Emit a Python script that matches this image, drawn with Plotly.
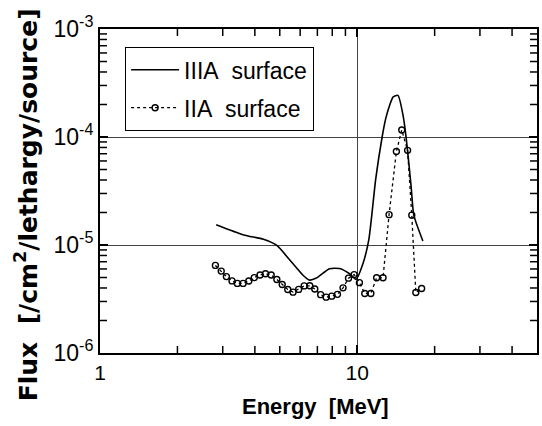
import plotly.graph_objects as go

# IIIA surface (solid line)
e_iiia = [2.83, 3.62, 4.32, 4.87, 5.46, 6.17, 6.53, 6.94, 7.80, 8.53, 9.31, 9.91,
          10.5, 11.1, 11.8, 12.5, 12.9, 13.3, 13.8, 14.4, 15.1, 15.5, 16.2, 16.6, 18.0]
f_iiia = [1.54e-5, 1.24e-5, 1.13e-5, 9.9e-6, 7.3e-6, 5.22e-6, 4.73e-6, 4.94e-6, 6.03e-6,
          6.05e-6, 5.45e-6, 4.82e-6, 6.59e-6, 1.13e-5, 4.08e-5, 1.0e-4, 1.47e-4, 1.9e-4,
          2.35e-4, 2.43e-4, 1.55e-4, 9.8e-5, 3.51e-5, 1.89e-5, 1.09e-5]

# IIA surface (dotted line with circles)
e_iia = [2.81, 2.96, 3.10, 3.26, 3.42, 3.60, 3.79, 3.98, 4.19, 4.40, 4.63, 4.87, 5.11,
         5.37, 5.63, 5.92, 6.22, 6.54, 6.84, 7.21, 7.57, 7.96, 8.38, 8.81, 9.25, 9.73,
         10.2, 10.7, 11.3, 11.9, 12.6, 13.3, 14.2, 14.9, 15.7, 16.3, 16.9, 17.8]
f_iia = [6.47e-6, 5.73e-6, 5.10e-6, 4.65e-6, 4.41e-6, 4.41e-6, 4.64e-6, 4.99e-6, 5.28e-6,
         5.41e-6, 5.27e-6, 4.80e-6, 4.31e-6, 3.87e-6, 3.66e-6, 3.88e-6, 4.18e-6, 4.19e-6,
         3.92e-6, 3.47e-6, 3.29e-6, 3.36e-6, 3.49e-6, 4.01e-6, 4.93e-6, 5.32e-6, 4.48e-6,
         3.56e-6, 3.56e-6, 4.97e-6, 4.97e-6, 1.91e-5, 7.33e-5, 1.16e-4, 7.52e-5, 1.89e-5,
         3.63e-6, 3.95e-6]

x_tickvals = [1, 10]
x_ticktext = ["1", "10"]
x_minor = [2, 3, 4, 5, 6, 7, 8, 9, 20, 30, 40]
y_tickvals = [1e-6, 1e-5, 1e-4, 1e-3]
y_ticktext = ["10<sup>-6</sup>", "10<sup>-5</sup>", "10<sup>-4</sup>", "10<sup>-3</sup>"]
y_minor = [m * 10.0 ** p for p in (-6, -5, -4) for m in range(2, 10)]
x_lim = [1, 50]
y_lim = [1e-6, 1e-3]

FONT = "Liberation Sans"
BOLDFONT = "DejaVu Sans"
XR = [0, 1.699]
YR = [-6, -3]

fig = go.Figure()
fig.add_trace(go.Scatter(
    x=e_iiia, y=f_iiia, mode="lines", name="IIIA\u00a0\u00a0surface",
    legendgroup="a",
    line=dict(color="black", width=1.6, shape="spline", smoothing=0.6),
))
fig.add_trace(go.Scatter(
    x=e_iia, y=f_iia, mode="lines+markers", name="IIA\u00a0\u00a0surface",
    legendgroup="b",
    line=dict(color="black", width=1.3, dash="dot"),
    marker=dict(symbol="circle-open", size=6, color="black", line=dict(width=1.4)),
))

# minor tick marks on all four frame edges (half of each marker is clipped away)
tick_marker = dict(color="black", size=10, line=dict(color="black", width=1.5))
for yv in y_lim:
    fig.add_trace(go.Scatter(x=x_minor, y=[yv] * len(x_minor), mode="markers",
                             marker=dict(symbol="line-ns-open", **tick_marker),
                             showlegend=False, hoverinfo="skip", cliponaxis=True))
for xv in x_lim:
    fig.add_trace(go.Scatter(x=[xv] * len(y_minor), y=y_minor, mode="markers",
                             marker=dict(symbol="line-ew-open", **tick_marker),
                             showlegend=False, hoverinfo="skip", cliponaxis=True))

fig.update_layout(
    width=542, height=426,
    margin=dict(l=100, r=3, t=29, b=73),
    paper_bgcolor="white", plot_bgcolor="white",
    font=dict(family=FONT, color="black"),
    showlegend=True,
    legend=dict(
        x=0.057, y=0.944, xanchor="left", yanchor="top",
        bgcolor="white", bordercolor="black", borderwidth=1.2,
        font=dict(size=23, family=FONT, color="black"),
        itemwidth=48, tracegroupgap=5,
    ),
)

fig.update_xaxes(
    type="log", range=XR,
    tickvals=x_tickvals, ticktext=x_ticktext,
    tickfont=dict(size=21, family=FONT, color="black"),
    ticks="inside", ticklen=8, tickwidth=1.5, tickcolor="black",
    showline=True, linecolor="black", linewidth=2, mirror="allticks",
    showgrid=True, gridcolor="#444", gridwidth=1, zeroline=False,
)
fig.update_yaxes(
    type="log", range=YR,
    tickvals=y_tickvals, ticktext=y_ticktext,
    tickfont=dict(size=23, family=FONT, color="black"),
    ticks="inside", ticklen=8, tickwidth=1.5, tickcolor="black",
    showline=True, linecolor="black", linewidth=2, mirror="allticks",
    showgrid=True, gridcolor="#444", gridwidth=1, zeroline=False,
)

fig.add_annotation(
    text="<b>Energy\u00a0\u00a0[MeV]</b>", xref="paper", yref="paper",
    x=(316 - 100) / 439, y=-(406 - 353) / 324, xanchor="center", yanchor="middle",
    showarrow=False, font=dict(size=22, family=FONT, color="black"),
)
fig.add_annotation(
    text="<b>Flux\u00a0\u00a0[/cm<sup>2</sup>/lethargy/source]</b>", xref="paper", yref="paper",
    x=-(100 - 26) / 439, y=(353 - 205) / 324, xanchor="center", yanchor="middle",
    textangle=-90, showarrow=False, font=dict(size=25, family=BOLDFONT, color="black"),
)

fig.write_html("out.html")
